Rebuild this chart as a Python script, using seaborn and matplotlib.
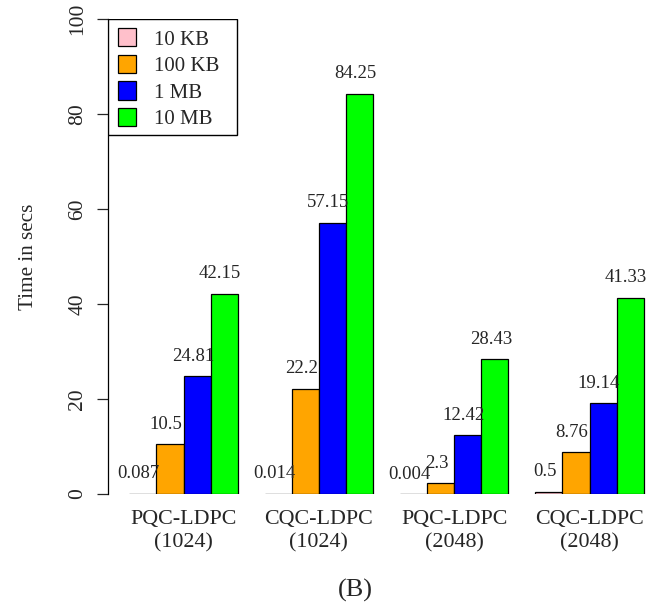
import matplotlib
matplotlib.use("Agg")
import matplotlib.pyplot as plt
from matplotlib.patches import Rectangle
from matplotlib.legend_handler import HandlerPatch
import seaborn as sns
import pandas as pd

# Encoding time per scheme and file size
schemes = ["PQC-LDPC\n(1024)", "CQC-LDPC\n(1024)", "PQC-LDPC\n(2048)", "CQC-LDPC\n(2048)"]
sizes = ["10 KB", "100 KB", "1 MB", "10 MB"]
t_10kb = [0.087, 0.014, 0.004, 0.5]
t_100kb = [10.5, 22.2, 2.3, 8.76]
t_1mb = [24.81, 57.15, 12.42, 19.14]
t_10mb = [42.15, 84.25, 28.43, 41.33]
value_labels = [
    ["0.087", "0.014", "0.004", "0.5"],
    ["10.5", "22.2", "2.3", "8.76"],
    ["24.81", "57.15", "12.42", "19.14"],
    ["42.15", "84.25", "28.43", "41.33"],
]
colors = ["#FFC0CB", "#FFA500", "#0000FF", "#00FF00"]
y_ticks = [0, 20, 40, 60, 80, 100]

series = [t_10kb, t_100kb, t_1mb, t_10mb]
df = pd.DataFrame({
    "scheme": [s for _ in sizes for s in schemes],
    "size": [sz for sz in sizes for _ in schemes],
    "time": [v for vals in series for v in vals],
})

sns.set_style("white")
plt.rcParams["font.family"] = ["Liberation Serif", "DejaVu Serif"]

fig = plt.figure(figsize=(6.62, 6.06), dpi=100)
W, H = 662, 606
left_px, right_px = 108, 664.4
top_px, bottom_px = 19, 494
ax_w_px, ax_h_px = right_px - left_px, bottom_px - top_px
ax = fig.add_axes([left_px / W, 1 - bottom_px / H, ax_w_px / W, ax_h_px / H])

sns.barplot(data=df, x="scheme", y="time", hue="size", order=schemes,
            hue_order=sizes, palette=colors, width=0.8, gap=0,
            edgecolor="black", linewidth=0.9, saturation=1, ax=ax,
            errorbar=None)

# value labels above each bar
for i, cont in enumerate(ax.containers):
    for j, bar in enumerate(cont):
        xc = bar.get_x() + bar.get_width() / 2 - 0.03
        ax.text(xc, bar.get_height() + 4.2, value_labels[i][j],
                ha="center", va="center", fontsize=13.5)

ax.set_xlim(-0.558, 3.553)
ax.set_ylim(0, 100)
ax.set_yticks(y_ticks)
ax.set_yticklabels([str(t) for t in y_ticks], rotation=90, va="center",
                   fontsize=15.5)
ax.tick_params(axis="y", direction="out", length=8, width=0.9, pad=7,
               left=True)
ax.tick_params(axis="x", length=0, pad=11.5, labelsize=15.8)
for lab in ax.get_xticklabels():
    lab.set_linespacing(1.3)
ax.set_xlabel("")
ax.set_ylabel("Time in secs", fontsize=15.2, labelpad=22)
for side in ["top", "right", "bottom"]:
    ax.spines[side].set_visible(False)
ax.spines["left"].set_linewidth(0.9)
ax.spines["left"].set_color("black")


def square_patch(legend, orig_handle, xdescent, ydescent, width, height, fontsize):
    s = 13
    return Rectangle((-xdescent + width - s, -ydescent + (height - s) / 2), s, s)


# legend frame drawn as its own box
frame_l, frame_t, frame_r, frame_b = 108, 19, 237, 135
ax.add_patch(Rectangle(((frame_l - left_px) / ax_w_px, 1 - (frame_b - top_px) / ax_h_px),
                       (frame_r - frame_l) / ax_w_px, (frame_b - frame_t) / ax_h_px,
                       transform=ax.transAxes, facecolor="white",
                       edgecolor="black", linewidth=1.0, zorder=5))
handles, labels = ax.get_legend_handles_labels()
leg = ax.legend(handles, labels, loc="upper left",
                bbox_to_anchor=((112.6 - left_px) / ax_w_px, 1 - 1 / ax_h_px),
                borderaxespad=0, fontsize=15, frameon=False,
                handlelength=0.63, handleheight=0.63, handletextpad=0.87,
                labelspacing=0.36, borderpad=0.5,
                handler_map={Rectangle: HandlerPatch(patch_func=square_patch)})
leg.set_zorder(6)

fig.text(355 / W, 1 - 590 / H, "(B)", ha="center", va="center", fontsize=19)

fig.savefig("out.png", dpi=100)
